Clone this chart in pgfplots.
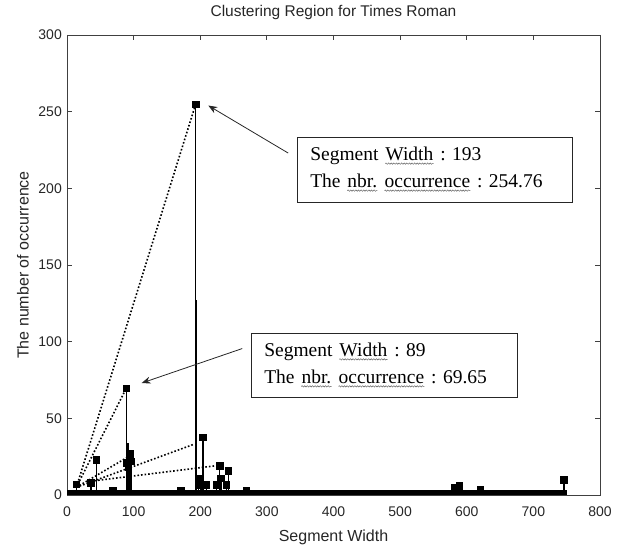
\documentclass[border=0pt]{standalone}
\usepackage{fontspec}
\setmainfont{Liberation Serif}
\setsansfont{Liberation Sans}
\usepackage{pgfplots}
\usepackage{pgfplotstable}
\pgfplotsset{compat=1.18}
\usetikzlibrary{arrows.meta,decorations.pathmorphing}

\pgfplotstableread{
x y
14 7
36 8
44 23
69 3
89 69.65
89 21
92 18
94 27
96 22
171 3
193 254.76
197 11
201 6.5
204 37.6
209 6.5
224 6.5
229 19
231 11
239 6.5
242 16
269 3
582 5
589 6
620 3.5
746 10
}\stems

\newcommand{\sq}[1]{\tikz[baseline=(t.base)]{\node[inner sep=0pt, draw=none, text width=, minimum width=0pt, minimum height=0pt](t){#1};
  \draw[decorate, decoration={snake, amplitude=0.7bp, segment length=2.6bp}, line width=0.45bp, black!65]
  ([yshift=-2.8bp]t.base west) -- ([yshift=-2.8bp]t.base east);}}

\begin{document}
\frenchspacing
\begin{tikzpicture}
\useasboundingbox (0,0) rectangle (629bp,549bp);
\begin{axis}[
  at={(67bp,54bp)}, anchor=south west,
  scale only axis, width=533bp, height=460bp,
  xmin=0, xmax=800, ymin=0, ymax=300,
  xtick={0,100,...,800}, ytick={0,50,...,300},
  tick align=inside, tick pos=both, major tick length=5bp,
  axis line style={line width=0.8bp, black!75},
  every tick/.style={black!75, line width=0.8bp},
  /pgf/number format/assume math mode=true,
  ticklabel style={font=\sffamily\fontsize{14bp}{16bp}\selectfont, text=black!85},
  xticklabel style={anchor=center, yshift=-17bp},
  yticklabel style={anchor=east, inner sep=0pt, xshift=-5bp},
  title={Clustering Region for Times Roman},
  title style={at={(axis description cs:0.5,1.037)}, anchor=center,
    font=\sffamily\fontsize{15.5bp}{17bp}\selectfont, text=black!85},
  xlabel={Segment Width},
  xlabel style={at={(axis description cs:0.5,-0.093)}, anchor=center,
    font=\sffamily\fontsize{16bp}{18bp}\selectfont, text=black!85},
  ylabel={The number of occurrence},
  ylabel style={at={(axis description cs:-0.0826,0.5)}, anchor=center,
    font=\sffamily\fontsize{16bp}{18bp}\selectfont, text=black!85},
]
% thick base band of markers at zero
\addplot[black, line width=10bp, no marks] coordinates {(0,0) (750,0)};
% dotted guide lines
\addplot[black, line width=1.6bp, dash pattern=on 1.6bp off 2bp, no marks] coordinates {(14,5) (193,254.76)};
\addplot[black, line width=1.6bp, dash pattern=on 1.6bp off 2bp, no marks] coordinates {(14,5) (89,69.65)};
\addplot[black, line width=1.6bp, dash pattern=on 1.6bp off 2bp, no marks] coordinates {(14,5) (190,33)};
\addplot[black, line width=1.6bp, dash pattern=on 1.6bp off 2bp, no marks] coordinates {(14,5) (100,27)};
\addplot[black, line width=1.6bp, dash pattern=on 1.6bp off 2bp, no marks] coordinates {(36,9) (222,19)};
% stems
\addplot[black, ycomb, line width=1.8bp, no marks] coordinates {(194,127) (91,34)};
\addplot[black, ycomb, line width=1.4bp, mark=square*, mark size=3.3bp,
  mark options={line width=0.5bp}] table {\stems};
% annotations
\draw[black!85, line width=0.8bp, -{Stealth[length=9bp,width=7bp]}] (axis cs:332,223) -- (axis cs:212,254);
\draw[black!85, line width=0.8bp, -{Stealth[length=9bp,width=7bp]}] (axis cs:263,95.5) -- (axis cs:112,73);
\node[draw=black!85, line width=0.8bp, anchor=north west, minimum width=275bp, minimum height=65bp,
  text width=249bp, inner xsep=13bp, align=left,
  font=\fontsize{19.5bp}{27bp}\selectfont] at (axis cs:345,233.8)
  {Segment \sq{Width} : 193\\The \sq{nbr.} \sq{occurrence} : 254.76};
\node[draw=black!85, line width=0.8bp, anchor=north west, minimum width=266bp, minimum height=64bp,
  text width=240bp, inner xsep=13bp, align=left,
  font=\fontsize{19.5bp}{27bp}\selectfont] at (axis cs:276,105.8)
  {Segment \sq{Width} : 89\\The \sq{nbr.} \sq{occurrence} : 69.65};
\end{axis}
\end{tikzpicture}
\end{document}
